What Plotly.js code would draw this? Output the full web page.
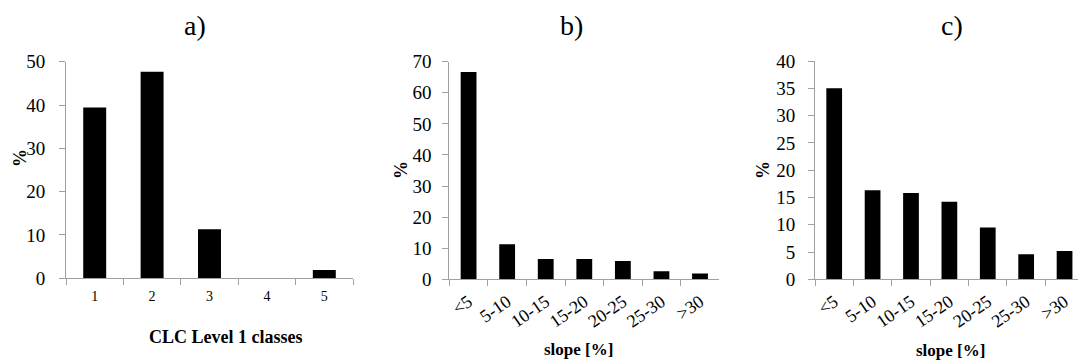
<!DOCTYPE html>
<html>
<head>
<meta charset="utf-8">
<script src="https://cdn.plot.ly/plotly-3.0.1.min.js"></script>
<style>html,body{margin:0;padding:0;background:#fff;}#chart{width:1078px;height:360px;}</style>
</head>
<body>
<div id="chart"></div>
<script>
// Data
const clcClasses = ["1", "2", "3", "4", "5"];
const clcValues = [39.4, 47.7, 11.3, 0, 1.9];
const slopeClasses = ["<5", "5-10", "10-15", "15-20", "20-25", "25-30", ">30"];
const slopeValuesB = [66.7, 11.3, 6.5, 6.5, 5.9, 2.6, 1.9];
const slopeValuesC = [35.0, 16.3, 15.8, 14.2, 9.5, 4.6, 5.2];
const panelTitles = ["a)", "b)", "c)"];
const xTitles = ["CLC Level 1 classes", "slope [%]", "slope [%]"];
const yTitle = "%";

const W = 1078, H = 360;
const px = v => v / W;
const py = v => 1 - v / H;
const FONT = "Liberation Serif, Times New Roman, serif";
const AX = "#a0a0a0";

const bar = (x, y, xa, ya, w) => ({
  type: "bar", x: x, y: y, xaxis: xa, yaxis: ya, width: w,
  marker: {color: "#000", line: {color: "#000", width: 0}},
  hoverinfo: "x+y", showlegend: false
});

const data = [
  bar(clcClasses, clcValues, "x", "y", 0.4),
  bar(slopeClasses, slopeValuesB, "x2", "y2", 0.41),
  bar(slopeClasses, slopeValuesC, "x3", "y3", 0.41)
];

const xBase = (dom, anchor, fs, angle, range, so) => ({
  domain: dom, anchor: anchor, type: "category", range: range,
  showline: true, linecolor: AX, linewidth: 1, mirror: false,
  ticks: "outside", tickson: "boundaries", ticklen: 6, tickcolor: AX, tickwidth: 1,
  showgrid: false, zeroline: false, tickangle: angle, ticklabelstandoff: so,
  tickfont: {family: FONT, size: fs, color: "#000"}, fixedrange: true
});
const yBase = (dom, anchor, range, dtick, so) => ({
  domain: dom, anchor: anchor, range: range, dtick: dtick, tick0: 0,
  showline: true, linecolor: AX, linewidth: 1,
  ticks: "outside", ticklen: 6, tickcolor: AX, tickwidth: 1,
  showgrid: false, zeroline: false, ticklabelstandoff: so,
  tickfont: {family: FONT, size: 19, color: "#000"}, fixedrange: true
});

const ann = (text, x, y, size, bold, angle) => ({
  text: bold ? "<b>" + text + "</b>" : text,
  xref: "paper", yref: "paper", x: px(x), y: py(y),
  xanchor: "center", yanchor: "middle", showarrow: false,
  textangle: angle || 0,
  font: {family: FONT, size: size, color: "#000"}
});

const layout = {
  width: W, height: H,
  margin: {l: 0, r: 0, t: 0, b: 0, pad: 0},
  paper_bgcolor: "#fff", plot_bgcolor: "#fff",
  showlegend: false,
  xaxis: xBase([px(66), px(353)], "y", 14, 0, [-0.5, 4.5], 5),
  yaxis: yBase([1 - 278.3 / H, 1 - 61.7 / H], "x", [0, 50], 10, 10),
  xaxis2: xBase([px(449.3), px(719.3)], "y2", 18, -35, [-0.5, 6.5], 4),
  yaxis2: yBase([1 - 279.3 / H, 1 - 61.7 / H], "x2", [0, 70], 10, 7),
  xaxis3: xBase([px(815), 1], "y3", 18, -35, [-0.5, 6.35], 4),
  yaxis3: yBase([1 - 279.3 / H, 1 - 61 / H], "x3", [0, 40], 5, 9),
  annotations: [
    ann(panelTitles[0], 195, 26, 28, false),
    ann(panelTitles[1], 571, 26, 28, false),
    ann(panelTitles[2], 952, 26, 28, false),
    ann(xTitles[0], 225, 337, 18, true),
    ann(xTitles[1], 578, 349, 17, true),
    ann(xTitles[2], 950, 350, 17, true),
    ann(yTitle, 20, 158, 18, true, -90),
    ann(yTitle, 401, 170, 18, true, -90),
    ann(yTitle, 763, 170, 18, true, -90)
  ]
};

Plotly.newPlot("chart", data, layout, {displayModeBar: false, staticPlot: true});
</script>
</body>
</html>
